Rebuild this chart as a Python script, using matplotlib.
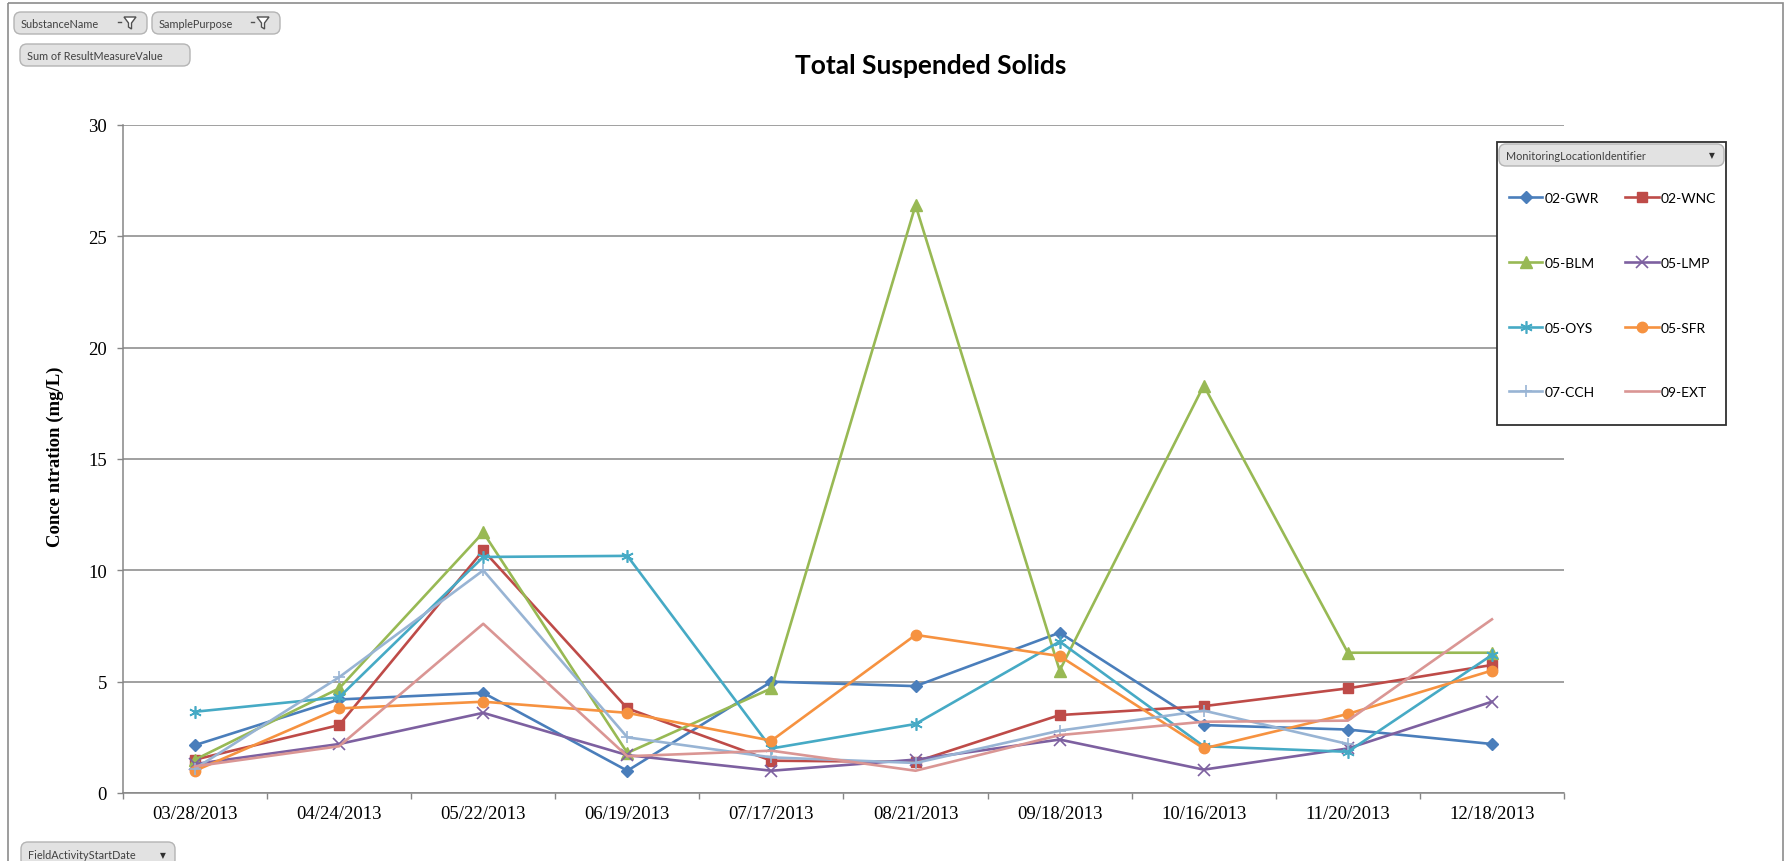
import matplotlib.pyplot as plt
import numpy as np
from matplotlib.patches import FancyBboxPatch, Rectangle, Polygon

W, H = 1790, 862

dates = ["03/28/2013", "04/24/2013", "05/22/2013", "06/19/2013", "07/17/2013",
         "08/21/2013", "09/18/2013", "10/16/2013", "11/20/2013", "12/18/2013"]

gwr = [2.15, 4.2, 4.5, 1.0, 5.0, 4.8, 7.2, 3.05, 2.85, 2.2]
wnc = [1.5, 3.05, 10.9, 3.8, 1.45, 1.4, 3.5, 3.9, 4.7, 5.75]
blm = [1.5, 4.7, 11.7, 1.8, 4.7, 26.4, 5.5, 18.3, 6.3, 6.3]
lmp = [1.3, 2.2, 3.6, 1.7, 1.0, 1.5, 2.4, 1.05, 2.0, 4.1]
oys = [3.65, 4.3, 10.6, 10.65, 2.0, 3.1, 6.8, 2.1, 1.85, 6.2]
sfr = [1.0, 3.8, 4.1, 3.6, 2.35, 7.1, 6.15, 2.0, 3.55, 5.5]
cch = [1.1, 5.2, 10.0, 2.5, 1.6, 1.35, 2.8, 3.7, 2.2, np.nan]
ext = [1.2, 2.1, 7.6, 1.65, 1.9, 1.0, 2.6, 3.2, 3.25, 7.8]

series = [
    ("02-GWR", gwr, dict(color="#4A7EBB", marker="D", ms=6)),
    ("02-WNC", wnc, dict(color="#BE4B48", marker="s", ms=7)),
    ("05-BLM", blm, dict(color="#98B954", marker="^", ms=8)),
    ("05-LMP", lmp, dict(color="#7D60A0", marker="x", ms=8, mew=1.2)),
    ("05-OYS", oys, dict(color="#46AAC5", marker=(6, 2, 0), ms=9, mew=1.2)),
    ("05-SFR", sfr, dict(color="#F69240", marker="o", ms=7.5)),
    ("07-CCH", cch, dict(color="#98B4D4", marker="+", ms=9, mew=1.2)),
    ("09-EXT", ext, dict(color="#DA9694", marker="None")),
]

GRID = "#868686"

fig = plt.figure(figsize=(W / 100, H / 100), dpi=100)
fig.patch.set_facecolor("white")

# main plot area (pixel box 123..1564 x 126..794)
ax = fig.add_axes([123 / W, 1 - 794 / H, (1564 - 123) / W, (794 - 126) / H])
x = np.arange(len(dates))
handles = []
for name, vals, st in series:
    ln, = ax.plot(x, vals, lw=1.9, label=name, **st)
    handles.append(ln)

ax.set_xlim(-0.5, len(dates) - 0.5)
ax.set_ylim(0, 30)
ax.set_yticks(np.arange(0, 31, 5))
ax.set_xticks(x)
ax.set_xticklabels(dates)
ax.set_xticks(np.arange(-0.5, len(dates), 1.0), minor=True)
ax.tick_params(axis="x", which="major", length=0, pad=9)
ax.tick_params(axis="x", which="minor", length=4, color=GRID, width=1)
ax.tick_params(axis="y", length=4.5, color=GRID, width=1, pad=7)
for lab in ax.get_xticklabels() + ax.get_yticklabels():
    lab.set_fontfamily("Liberation Serif")
    lab.set_fontsize(13.5)
ax.yaxis.grid(True, color=GRID, lw=1.1)
ax.set_axisbelow(True)
for s in ("top", "right"):
    ax.spines[s].set_visible(False)
for s in ("left", "bottom"):
    ax.spines[s].set_color(GRID)
    ax.spines[s].set_linewidth(1.1)

fig.text(931 / W, 1 - 66 / H, "Total Suspended Solids", ha="center", va="center",
         fontsize=19, fontweight="bold", family="Lato")
fig.text(55 / W, 1 - 457 / H, "Conce ntration (mg/L)", ha="center", va="center",
         rotation=90, fontsize=13.5, fontweight="bold", family="Liberation Serif")

# overlay for pivot-chart decorations, in pixel coordinates
ov = fig.add_axes([0, 0, 1, 1], zorder=1)
ov.set_xlim(0, W)
ov.set_ylim(H, 0)
ov.axis("off")
ov.patch.set_alpha(0)

ov.add_patch(Rectangle((8, 4), 1775, 870, fill=False, ec="#8c8c8c", lw=1.2))


def button(x0, y0, x1, y1, text, arrow=False, funnel=False):
    ov.add_patch(FancyBboxPatch((x0, y0), x1 - x0, y1 - y0,
                                boxstyle="round,pad=0,rounding_size=7",
                                fc="#e2e2e2", ec="#b4b4b4", lw=1))
    ov.text(x0 + 7, (y0 + y1) / 2, text, fontsize=7.8, color="#404040",
            va="center", ha="left", family="Lato")
    if arrow:
        ov.text(x1 - 12, (y0 + y1) / 2, "\u25bc", fontsize=5.5, color="#303030",
                va="center", ha="center")
    if funnel:
        cx, cy = x1 - 17, (y0 + y1) / 2
        ov.add_patch(Polygon([(cx - 6, cy - 6), (cx + 6, cy - 6), (cx + 1.5, cy),
                              (cx + 1.5, cy + 6), (cx - 1.5, cy + 4), (cx - 1.5, cy)],
                             closed=True, fc="white", ec="#505050", lw=1))
        ov.plot([cx - 12, cx - 9], [cy - 1, cy - 1], color="#505050", lw=1)


button(14, 13, 147, 35, "SubstanceName", funnel=True)
button(152, 13, 280, 35, "SamplePurpose", funnel=True)
button(20, 45, 190, 67, "Sum of ResultMeasureValue")
button(21, 843, 175, 868, "FieldActivityStartDate", arrow=True)

# legend box
ov.add_patch(Rectangle((1497, 143), 229, 283, fc="white", ec="#303030", lw=1.3))
button(1499, 145, 1724, 167, "MonitoringLocationIdentifier", arrow=True)

# legend fills column by column, so reorder to read row by row
order = [0, 2, 4, 6, 1, 3, 5, 7]
fig.legend(handles=[handles[i] for i in order], loc="upper left",
           bbox_to_anchor=(1509 / W, 1 - 193 / H),
           ncol=2, frameon=False, prop={"family": "Lato", "size": 10},
           borderpad=0, borderaxespad=0, handlelength=2.4, handletextpad=0.15,
           labelspacing=3.8, columnspacing=1.9)

fig.savefig("out.png", dpi=100)
